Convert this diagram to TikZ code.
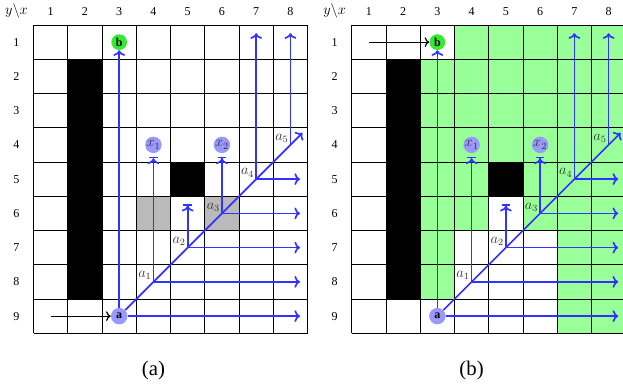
\documentclass[tikz,border=0pt]{standalone}
\usepackage{fontspec}
\setmainfont{Liberation Serif}
\usepackage{amsmath}
\definecolor{rayblue}{rgb}{0.2, 0.2, 1.0}
\definecolor{stateblue}{rgb}{0.6, 0.6, 1.0}
\definecolor{goalgreen}{rgb}{0.2, 0.92, 0.2}
\definecolor{freegreen}{rgb}{0.6, 1.0, 0.6}
\usetikzlibrary{arrows.meta}

\begin{document}
\begin{tikzpicture}[
    cellline/.style={line width=0.7pt},
    ray/.style={rayblue, line width=1.4pt, -To},
    stopray/.style={rayblue, line width=1.4pt, -{To[]Bar[width=7pt]}},
    entry/.style={line width=1pt, -To},
    state/.style={circle, fill=stateblue, inner sep=0pt, minimum size=0.48cm},
    goal/.style={circle, fill=goalgreen, inner sep=0pt, minimum size=0.46cm},
    pt/.style={label={[inner sep=1.5pt, text=black!80, font=\large]above left:#1}}
  ]
    \useasboundingbox (-0.98,0.73) rectangle (17.21,-10.54);

    % reachable cells in (b)
    \begin{scope}[xshift=9.29cm]
      \fill[freegreen] (6,0) rectangle (8,-9);
      \fill[freegreen] (3,0) rectangle (6,-4);
      \fill[freegreen] (2,-1) rectangle (3,-8);
      \fill[freegreen] (2,-4) rectangle (4,-6);
      \fill[freegreen] (5,-4) rectangle (6,-6);
    \end{scope}
    % cells in (a)
    \fill[black!27] (3,-5) rectangle (4,-6);
    \fill[black!27] (5,-5) rectangle (6,-6);

    \foreach \dx/\panel/\from/\goalnode in {0/a/{0.5,-8.5}/a, 9.29/b/{0.5,-0.5}/b} {
      \begin{scope}[xshift=\dx cm]
        \fill (1,-1) rectangle (2,-8);
        \fill (4,-4) rectangle (5,-5);
        \draw[cellline] (0,0) grid (8,-9);

        \node[text=black, font=\large] (corner) at (-0.5,0.4) {$y\backslash x$};
        \foreach \c in {1,...,8}
          \node (col\c) at (\c-0.5,0.4) {\c};
        \foreach \r in {1,...,9}
          \node (row\r) at (-0.5,0.5-\r) {\r};
        \node[font=\LARGE] (cap) at (3.5,-10.09) {(\panel)};

        \node[state] (a) at (2.5,-8.5) {\textbf{a}};
        \node[goal] (b) at (2.5,-0.5) {\textbf{b}};
        \node[state, text=black!80, font=\large] (x1) at (3.5,-3.5) {$x_1$};
        \node[state, text=black!80, font=\large] (x2) at (5.5,-3.5) {$x_2$};

        \coordinate[pt=$a_1$] (a1) at (3.5,-7.5);
        \coordinate[pt=$a_2$] (a2) at (4.5,-6.5);
        \coordinate[pt=$a_3$] (a3) at (5.5,-5.5);
        \coordinate[pt=$a_4$] (a4) at (6.5,-4.5);
        \coordinate[pt=$a_5$] (a5) at (7.5,-3.5);
        \coordinate (tip) at (7.85,-3.15);
        \coordinate (east) at (7.78,0);
        \coordinate (top) at (0,-0.24);
        \coordinate (s2) at (4.5,-5.23);
        \coordinate (start) at (\from);

        \draw[entry] (start) -- (\goalnode);
        \draw[ray] (a) -- (b);
        \draw[ray] (a) -- (tip);
        \foreach \p in {a,a1,a2,a3,a4}
          \draw[ray] (\p) -- (\p -| east);
        \foreach \p in {a4,a5}
          \draw[ray] (\p) -- (\p |- top);
        \draw[stopray] (a1) -- ([yshift=-0.1cm]x1.south);
        \draw[stopray] (a3) -- ([yshift=-0.1cm]x2.south);
        \draw[stopray] (a2) -- (s2);
      \end{scope}
    }

\end{tikzpicture}
\end{document}
